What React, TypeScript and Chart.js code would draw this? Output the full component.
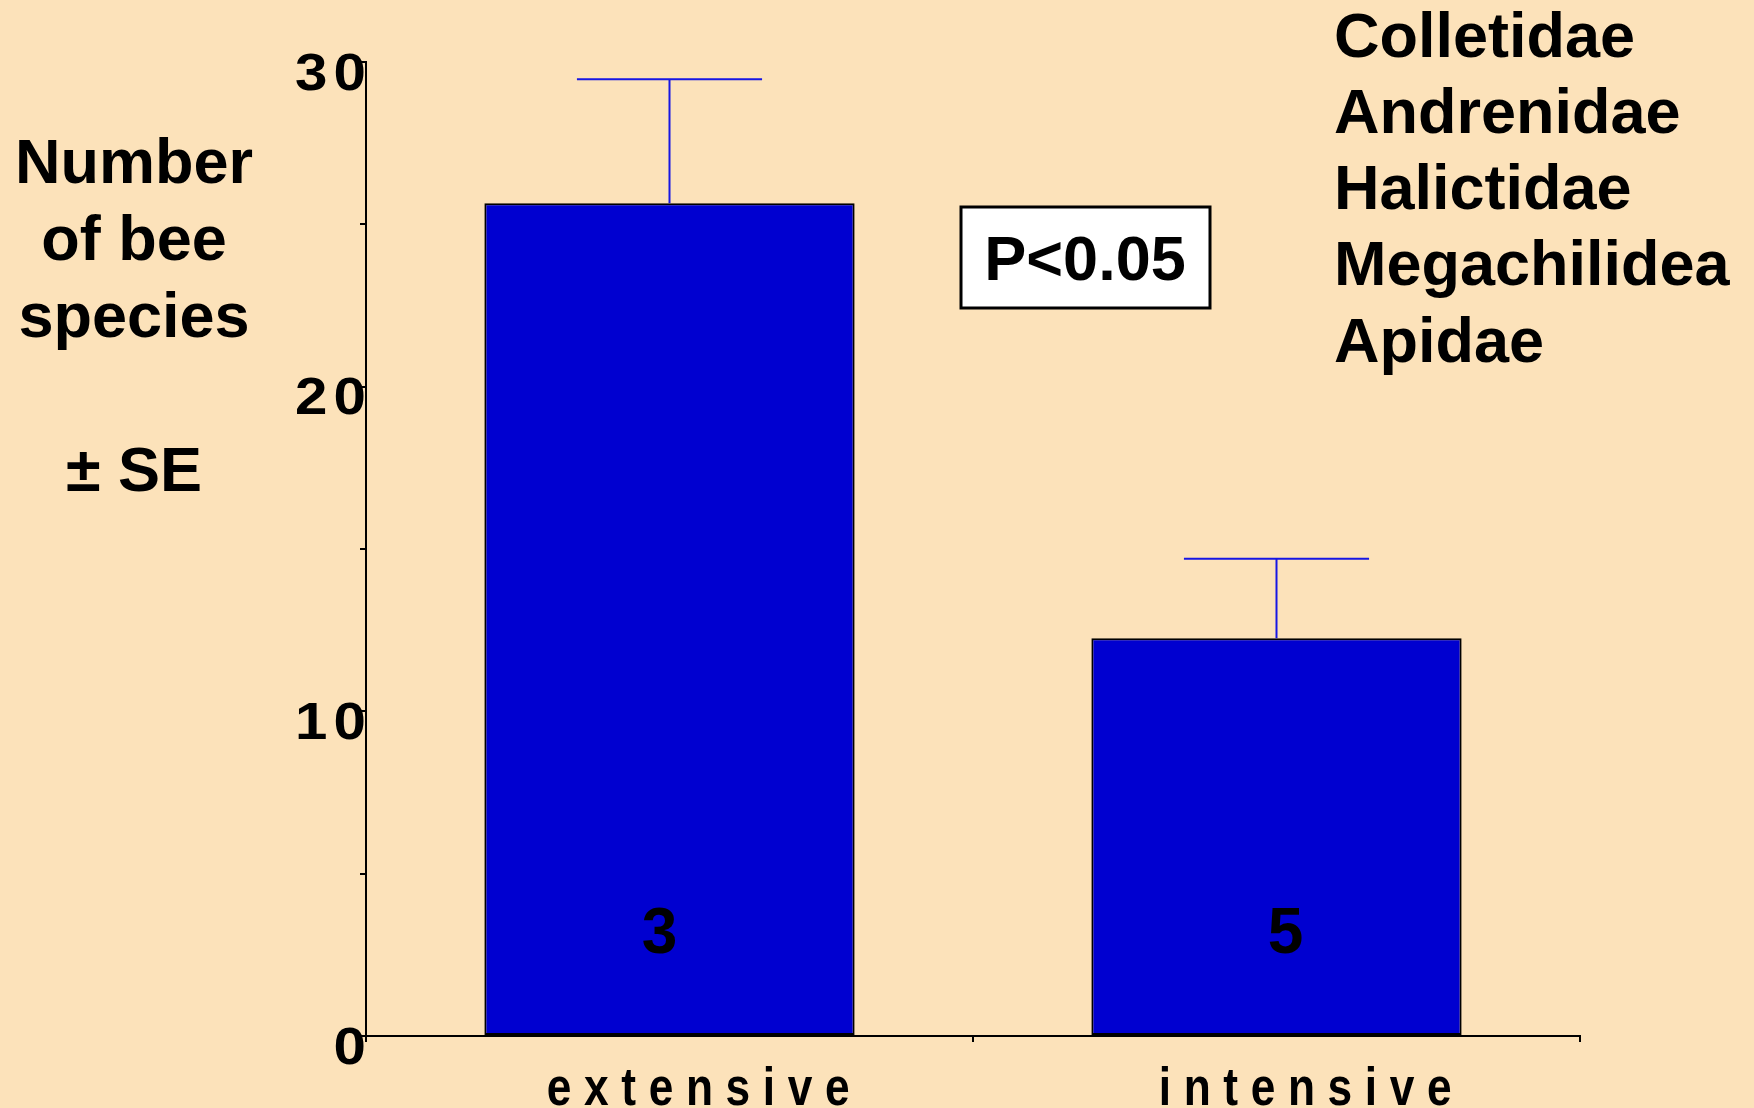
import React, { useEffect, useRef } from "react";
import { Chart, registerables } from "chart.js";

Chart.register(...registerables);

const categories = ["extensive", "intensive"];
const meanSpecies = [25.65, 12.25];
const seSpecies = [3.82, 2.45];
const familyCounts = ["3", "5"];
const yTitleLines = ["Number", "of bee", "species", "", "± SE"];
const beeFamilies = ["Colletidae", "Andrenidae", "Halictidae", "Megachilidea", "Apidae"];
const significanceText = "P<0.05";
const yLabelValues = [0, 10, 20, 30];

const BG = "#FCE2BA";
const BAR_FILL = "#0000D0";
const ERR_COLOR = "#1616E4";
const FONT = '"Liberation Sans", Arial, sans-serif';
// small horizontal nudges of the in-bar count labels (style only)
const COUNT_NUDGE_PX = [-10, 9];

const decorPlugin = {
  id: "decor",
  beforeDraw(chart: any) {
    const ctx = chart.ctx;
    ctx.save();
    ctx.fillStyle = BG;
    ctx.fillRect(0, 0, chart.width, chart.height);
    ctx.restore();
  },
  afterDatasetsDraw(chart: any) {
    const ctx = chart.ctx;
    const yScale = chart.scales.y;
    const meta = chart.getDatasetMeta(0);
    ctx.save();
    // error bars
    ctx.strokeStyle = ERR_COLOR;
    ctx.lineWidth = 2;
    meta.data.forEach((el: any, i: number) => {
      const top = yScale.getPixelForValue(meanSpecies[i] + seSpecies[i]);
      const half = el.width / 4;
      ctx.beginPath();
      ctx.moveTo(el.x, el.y);
      ctx.lineTo(el.x, top);
      ctx.moveTo(el.x - half, top);
      ctx.lineTo(el.x + half, top);
      ctx.stroke();
    });
    // counts inside bars
    ctx.fillStyle = "#000";
    ctx.font = `bold 64px ${FONT}`;
    ctx.textAlign = "center";
    ctx.textBaseline = "alphabetic";
    const base = yScale.getPixelForValue(0);
    meta.data.forEach((el: any, i: number) => {
      ctx.fillText(familyCounts[i], el.x + (COUNT_NUDGE_PX[i] || 0), base - 83);
    });
    ctx.restore();
  },
  afterDraw(chart: any) {
    const ctx = chart.ctx;
    const yScale = chart.scales.y;
    const xScale = chart.scales.x;
    ctx.save();
    ctx.fillStyle = "#000";
    ctx.textBaseline = "alphabetic";

    // y tick labels (slightly widened, spaced digits)
    ctx.font = `bold 52px ${FONT}`;
    ctx.textAlign = "right";
    (ctx as any).letterSpacing = "5.5px";
    yLabelValues.forEach((v) => {
      const py = yScale.getPixelForValue(v);
      ctx.save();
      ctx.translate(yScale.right + 6, py + 27.6);
      ctx.scale(1.12, 1);
      ctx.fillText(String(v), 0, 0);
      ctx.restore();
    });

    // x labels (condensed, widely spaced)
    ctx.font = `bold 54px ${FONT}`;
    ctx.textAlign = "center";
    (ctx as any).letterSpacing = "15.4px";
    categories.forEach((c, i) => {
      const px = xScale.getPixelForValue(i);
      ctx.save();
      ctx.translate(px + 35, xScale.top + 69);
      ctx.scale(0.82, 1);
      ctx.fillText(c, 0, 0);
      ctx.restore();
    });
    (ctx as any).letterSpacing = "0px";

    // y title
    ctx.font = `bold 63px ${FONT}`;
    ctx.textAlign = "center";
    yTitleLines.forEach((line, i) => {
      if (line) ctx.fillText(line, 134, 183 + 77 * i);
    });

    // family list
    ctx.textAlign = "left";
    beeFamilies.forEach((f, i) => {
      ctx.fillText(f, 1334, 56.7 + 76.2 * i);
    });

    // significance box
    ctx.fillStyle = "#fff";
    ctx.fillRect(961, 207, 249, 101);
    ctx.strokeStyle = "#000";
    ctx.lineWidth = 3;
    ctx.strokeRect(961, 207, 249, 101);
    ctx.fillStyle = "#000";
    ctx.font = `bold 63px ${FONT}`;
    ctx.textAlign = "center";
    ctx.fillText(significanceText, 1085, 280);

    ctx.restore();
  },
};

export default function App() {
  const ref = useRef<HTMLCanvasElement | null>(null);
  useEffect(() => {
    if (!ref.current) return;
    const axisGrid = {
      display: true,
      drawOnChartArea: false,
      drawTicks: true,
      tickLength: 6,
      color: "#000",
      lineWidth: 2,
    };
    const chart = new Chart(ref.current, {
      type: "bar",
      data: {
        labels: categories,
        datasets: [
          {
            data: meanSpecies,
            backgroundColor: BAR_FILL,
            borderColor: "#000",
            borderWidth: 2,
            borderSkipped: false,
            barPercentage: 0.61,
            categoryPercentage: 1.0,
          },
        ],
      },
      options: {
        responsive: false,
        animation: false,
        layout: { padding: { left: 360, right: 174, top: 62, bottom: 66 } },
        plugins: { legend: { display: false }, tooltip: { enabled: false } },
        scales: {
          x: {
            grid: { ...axisGrid, offset: true },
            border: { display: true, color: "#000", width: 2 },
            ticks: { display: false },
          },
          y: {
            min: 0,
            max: 30,
            grid: axisGrid,
            border: { display: true, color: "#000", width: 2 },
            ticks: { display: false, stepSize: 5 },
          },
        },
      },
      plugins: [decorPlugin],
    } as any);
    return () => chart.destroy();
  }, []);
  return (
    <div style={{ position: "absolute", left: 0, top: 0, width: 1754, height: 1108, background: BG }}>
      <canvas ref={ref} width={1754} height={1108} style={{ display: "block", width: 1754, height: 1108 }} />
    </div>
  );
}
